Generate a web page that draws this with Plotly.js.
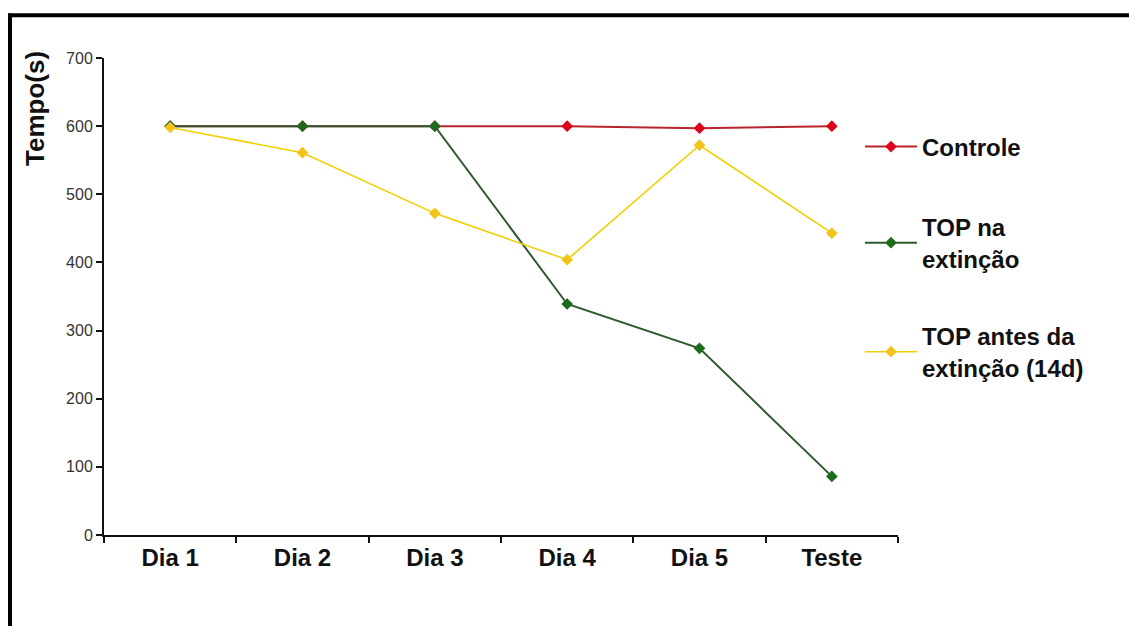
<!DOCTYPE html>
<html>
<head>
<meta charset="utf-8">
<script src="https://cdn.plot.ly/plotly-3.0.1.min.js"></script>
<style>
html,body{margin:0;padding:0;background:#fff;}
#chart{width:1129px;height:626px;}
</style>
</head>
<body>
<div id="chart"></div>
<script>
var categories = ['Dia 1', 'Dia 2', 'Dia 3', 'Dia 4', 'Dia 5', 'Teste'];
var controle = [600, 600, 600, 600, 597, 600];
var topNaExtincao = [600, 600, 600, 339, 274, 86];
var topAntesExtincao = [598, 561, 472, 404, 572, 443];
var seriesNames = ['Controle', 'TOP na<br>extinção', 'TOP antes da<br>extinção (14d)'];
var yTicks = [0, 100, 200, 300, 400, 500, 600, 700];

var FONT = 'Arial, "Liberation Sans", sans-serif';

var traces = [
  {
    x: categories, y: controle, name: seriesNames[0], type: 'scatter', mode: 'lines+markers',
    line: {color: '#b8262b', width: 2},
    marker: {symbol: 'diamond', size: 9, color: '#e0001a'},
    legend: 'legend'
  },
  {
    x: categories, y: topNaExtincao, name: seriesNames[1], type: 'scatter', mode: 'lines+markers',
    line: {color: '#2f5a2f', width: 2},
    marker: {symbol: 'diamond', size: 9, color: '#1b6b1b'},
    legend: 'legend2'
  },
  {
    x: categories, y: topAntesExtincao, name: seriesNames[2], type: 'scatter', mode: 'lines+markers',
    line: {color: '#f0d000', width: 1.6},
    marker: {symbol: 'diamond', size: 9, color: '#f2c31a'},
    legend: 'legend3'
  }
];

function px(x) { return (x - 104) / 794; }
function py(y) { return (535 - y) / 477; }

var legendBase = {
  font: {family: FONT, size: 24, color: '#111', weight: 'bold'},
  bgcolor: 'rgba(0,0,0,0)', borderwidth: 0,
  xanchor: 'left', yanchor: 'middle', itemwidth: 52,
  valign: 'middle'
};
function mkLegend(y) {
  var o = Object.assign({}, legendBase);
  o.x = px(860); o.y = py(y);
  return o;
}

var layout = {
  width: 1129, height: 626,
  margin: {l: 104, r: 231, t: 58, b: 91, pad: 0},
  paper_bgcolor: '#fff', plot_bgcolor: '#fff',
  showlegend: true,
  legend: mkLegend(147),
  legend2: mkLegend(243),
  legend3: mkLegend(352),
  xaxis: {
    type: 'category', range: [-0.5, 5.5], autorange: false,
    showline: true, linecolor: '#111', linewidth: 2,
    ticks: 'outside', tickson: 'boundaries', ticklen: 6, tickcolor: '#111', tickwidth: 2,
    showgrid: false, zeroline: false,
    tickfont: {family: FONT, size: 24, color: '#111', weight: 'bold'},
    ticklabelstandoff: 0
  },
  yaxis: {
    range: [0, 700], autorange: false,
    tickvals: yTicks, ticktext: yTicks.map(String),
    showline: true, linecolor: '#111', linewidth: 2,
    ticks: 'outside', ticklen: 6, tickcolor: '#111', tickwidth: 2,
    showgrid: false, zeroline: false,
    tickfont: {family: FONT, size: 16, color: '#333'}
  },
  annotations: [{
    text: 'Tempo(s)', xref: 'paper', yref: 'paper', x: px(35), y: py(109),
    xanchor: 'center', yanchor: 'middle', textangle: -90, showarrow: false,
    font: {family: FONT, size: 26, color: '#111', weight: 'bold'}
  }],
  shapes: [
    {type: 'line', xref: 'paper', yref: 'paper', x0: px(8), x1: px(1135), y0: py(15.3), y1: py(15.3),
     line: {color: '#000', width: 4}, layer: 'above'},
    {type: 'line', xref: 'paper', yref: 'paper', x0: px(10), x1: px(10), y0: py(13.5), y1: py(640),
     line: {color: '#000', width: 4}, layer: 'above'}
  ]
};

Plotly.newPlot('chart', traces, layout, {displayModeBar: false, responsive: false});
</script>
</body>
</html>
